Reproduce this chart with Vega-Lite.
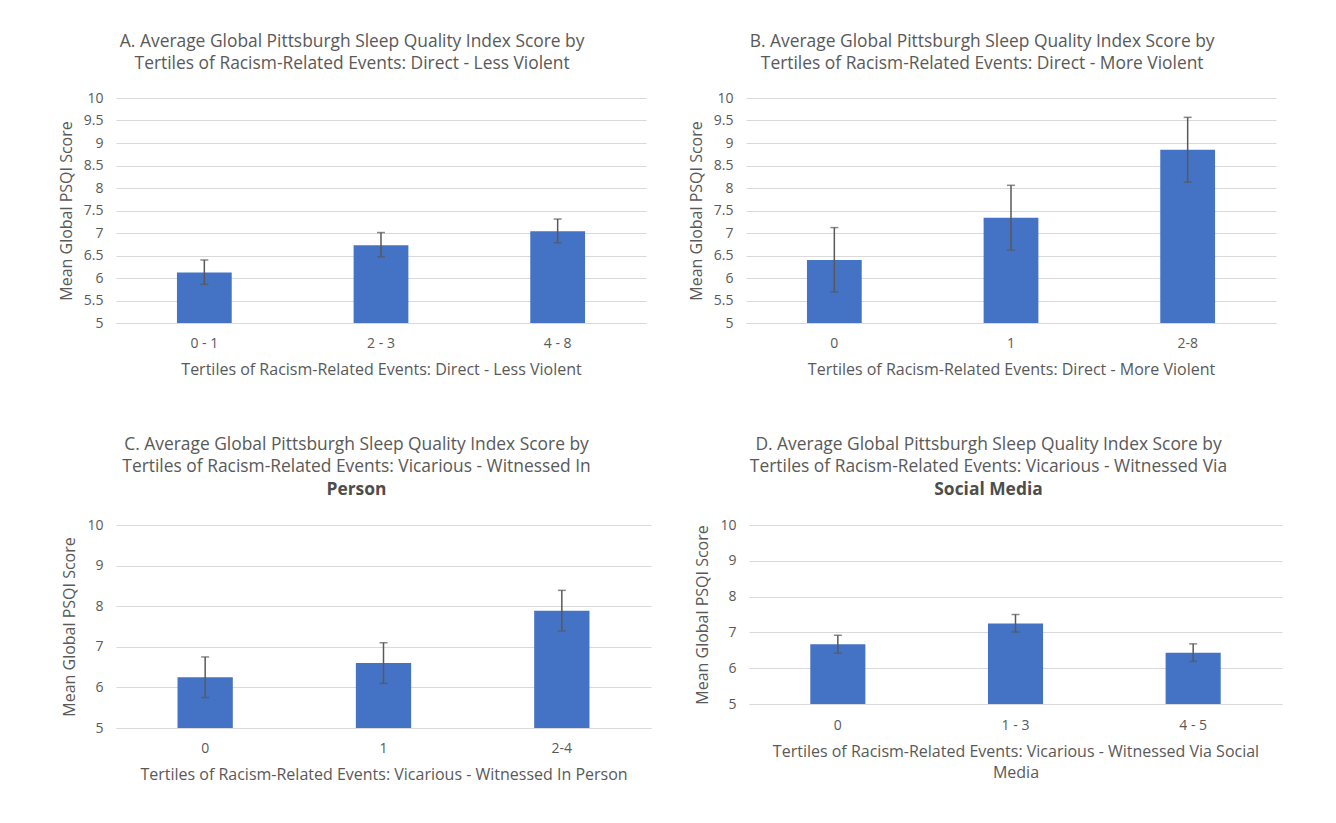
{
  "$schema": "https://vega.github.io/schema/vega-lite/v6.json",
  "padding": {"left": 58, "top": 32, "right": 5, "bottom": 5},
  "background": "white",
  "datasets": {
    "psqi": [
      {"panel": "A", "cat": "0 - 1", "mean": 6.12, "lo": 5.86, "hi": 6.40},
      {"panel": "A", "cat": "2 - 3", "mean": 6.73, "lo": 6.47, "hi": 7.01},
      {"panel": "A", "cat": "4 - 8", "mean": 7.04, "lo": 6.78, "hi": 7.31},
      {"panel": "B", "cat": "0", "mean": 6.40, "lo": 5.69, "hi": 7.12},
      {"panel": "B", "cat": "1", "mean": 7.34, "lo": 6.62, "hi": 8.06},
      {"panel": "B", "cat": "2-8", "mean": 8.85, "lo": 8.13, "hi": 9.57},
      {"panel": "C", "cat": "0", "mean": 6.25, "lo": 5.75, "hi": 6.75},
      {"panel": "C", "cat": "1", "mean": 6.60, "lo": 6.10, "hi": 7.10},
      {"panel": "C", "cat": "2-4", "mean": 7.89, "lo": 7.39, "hi": 8.39},
      {"panel": "D", "cat": "0", "mean": 6.67, "lo": 6.42, "hi": 6.92},
      {"panel": "D", "cat": "1 - 3", "mean": 7.25, "lo": 7.01, "hi": 7.50},
      {"panel": "D", "cat": "4 - 5", "mean": 6.43, "lo": 6.19, "hi": 6.68}
    ]
  },
  "config": {
    "font": "Open Sans",
    "view": {"stroke": null},
    "title": {"font": "Open Sans", "fontSize": 17.4, "fontWeight": "normal", "color": "#595959", "lineHeight": 22, "frame": "bounds", "anchor": "middle", "offset": 19, "subtitleFont": "Open Sans", "subtitleFontSize": 17.4, "subtitleFontWeight": "bold", "subtitleColor": "#4d4d4d", "subtitleLineHeight": 22, "subtitlePadding": 5},
    "axis": {"labelFont": "Open Sans", "titleFont": "Open Sans", "labelFontSize": 14, "titleFontSize": 16, "titleFontWeight": "normal", "labelColor": "#595959", "titleColor": "#595959", "ticks": false, "gridColor": "#d9d9d9", "gridWidth": 1, "domainColor": "#d9d9d9", "titleLineHeight": 21},
    "axisY": {"domain": false, "labelPadding": 13, "titlePadding": 9},
    "axisX": {"labelAngle": 0, "labelPadding": 13, "titlePadding": 11, "grid": false}
  },
  "vconcat": [
    {
      "hconcat": [
        {
          "width": 530, "height": 225,
          "title": {"text": ["A. Average Global Pittsburgh Sleep Quality Index Score by", "Tertiles of Racism-Related Events: Direct - Less Violent"]},
          "data": {"name": "psqi"},
          "transform": [{"filter": "datum.panel === 'A'"}],
          "encoding": {
            "x": {"field": "cat", "type": "nominal", "sort": null, "scale": {"paddingInner": 0.69, "paddingOuter": 0.345}, "axis": {"title": "Tertiles of Racism-Related Events: Direct - Less Violent"}}
          },
          "layer": [
            {"mark": {"type": "bar", "color": "#4472C4"}, "encoding": {"y": {"field": "mean", "type": "quantitative", "scale": {"domain": [5, 10], "nice": false, "zero": false}, "axis": {"values": [5, 5.5, 6, 6.5, 7, 7.5, 8, 8.5, 9, 9.5, 10], "format": "~r", "title": "Mean Global PSQI Score"}}, "y2": {"datum": 5}}},
            {"mark": {"type": "rule", "color": "#595959", "strokeWidth": 1.5}, "encoding": {"y": {"field": "lo", "type": "quantitative", "axis": {"values": [5, 5.5, 6, 6.5, 7, 7.5, 8, 8.5, 9, 9.5, 10], "format": "~r", "title": "Mean Global PSQI Score"}}, "y2": {"field": "hi"}}},
            {"mark": {"type": "tick", "color": "#595959", "thickness": 1.5, "size": 8}, "encoding": {"y": {"field": "lo", "type": "quantitative", "axis": {"values": [5, 5.5, 6, 6.5, 7, 7.5, 8, 8.5, 9, 9.5, 10], "format": "~r", "title": "Mean Global PSQI Score"}}}},
            {"mark": {"type": "tick", "color": "#595959", "thickness": 1.5, "size": 8}, "encoding": {"y": {"field": "hi", "type": "quantitative", "axis": {"values": [5, 5.5, 6, 6.5, 7, 7.5, 8, 8.5, 9, 9.5, 10], "format": "~r", "title": "Mean Global PSQI Score"}}}}
          ]
        },
        {
          "width": 530, "height": 225,
          "title": {"text": ["B. Average Global Pittsburgh Sleep Quality Index Score by", "Tertiles of Racism-Related Events: Direct - More Violent"]},
          "data": {"name": "psqi"},
          "transform": [{"filter": "datum.panel === 'B'"}],
          "encoding": {
            "x": {"field": "cat", "type": "nominal", "sort": null, "scale": {"paddingInner": 0.69, "paddingOuter": 0.345}, "axis": {"title": "Tertiles of Racism-Related Events: Direct - More Violent"}}
          },
          "layer": [
            {"mark": {"type": "bar", "color": "#4472C4"}, "encoding": {"y": {"field": "mean", "type": "quantitative", "scale": {"domain": [5, 10], "nice": false, "zero": false}, "axis": {"values": [5, 5.5, 6, 6.5, 7, 7.5, 8, 8.5, 9, 9.5, 10], "format": "~r", "title": "Mean Global PSQI Score"}}, "y2": {"datum": 5}}},
            {"mark": {"type": "rule", "color": "#595959", "strokeWidth": 1.5}, "encoding": {"y": {"field": "lo", "type": "quantitative", "axis": {"values": [5, 5.5, 6, 6.5, 7, 7.5, 8, 8.5, 9, 9.5, 10], "format": "~r", "title": "Mean Global PSQI Score"}}, "y2": {"field": "hi"}}},
            {"mark": {"type": "tick", "color": "#595959", "thickness": 1.5, "size": 8}, "encoding": {"y": {"field": "lo", "type": "quantitative", "axis": {"values": [5, 5.5, 6, 6.5, 7, 7.5, 8, 8.5, 9, 9.5, 10], "format": "~r", "title": "Mean Global PSQI Score"}}}},
            {"mark": {"type": "tick", "color": "#595959", "thickness": 1.5, "size": 8}, "encoding": {"y": {"field": "hi", "type": "quantitative", "axis": {"values": [5, 5.5, 6, 6.5, 7, 7.5, 8, 8.5, 9, 9.5, 10], "format": "~r", "title": "Mean Global PSQI Score"}}}}
          ]
        }
      ],
      "spacing": 42
    },
    {
      "hconcat": [
        {
          "width": 535, "height": 203,
          "title": {"text": ["C. Average Global Pittsburgh Sleep Quality Index Score by", "Tertiles of Racism-Related Events: Vicarious - Witnessed In"], "subtitle": "Person", "offset": 20},
          "data": {"name": "psqi"},
          "transform": [{"filter": "datum.panel === 'C'"}],
          "encoding": {
            "x": {"field": "cat", "type": "nominal", "sort": null, "scale": {"paddingInner": 0.69, "paddingOuter": 0.345}, "axis": {"title": "Tertiles of Racism-Related Events: Vicarious - Witnessed In Person"}}
          },
          "layer": [
            {"mark": {"type": "bar", "color": "#4472C4"}, "encoding": {"y": {"field": "mean", "type": "quantitative", "scale": {"domain": [5, 10], "nice": false, "zero": false}, "axis": {"values": [5, 6, 7, 8, 9, 10], "format": "~r", "title": "Mean Global PSQI Score"}}, "y2": {"datum": 5}}},
            {"mark": {"type": "rule", "color": "#595959", "strokeWidth": 1.5}, "encoding": {"y": {"field": "lo", "type": "quantitative", "axis": {"values": [5, 6, 7, 8, 9, 10], "format": "~r", "title": "Mean Global PSQI Score"}}, "y2": {"field": "hi"}}},
            {"mark": {"type": "tick", "color": "#595959", "thickness": 1.5, "size": 8}, "encoding": {"y": {"field": "lo", "type": "quantitative", "axis": {"values": [5, 6, 7, 8, 9, 10], "format": "~r", "title": "Mean Global PSQI Score"}}}},
            {"mark": {"type": "tick", "color": "#595959", "thickness": 1.5, "size": 8}, "encoding": {"y": {"field": "hi", "type": "quantitative", "axis": {"values": [5, 6, 7, 8, 9, 10], "format": "~r", "title": "Mean Global PSQI Score"}}}}
          ]
        },
        {
          "width": 533, "height": 179,
          "title": {"text": ["D. Average Global Pittsburgh Sleep Quality Index Score by", "Tertiles of Racism-Related Events: Vicarious - Witnessed Via"], "subtitle": "Social Media", "offset": 20},
          "data": {"name": "psqi"},
          "transform": [{"filter": "datum.panel === 'D'"}],
          "encoding": {
            "x": {"field": "cat", "type": "nominal", "sort": null, "scale": {"paddingInner": 0.69, "paddingOuter": 0.345}, "axis": {"title": ["Tertiles of Racism-Related Events: Vicarious - Witnessed Via Social", "Media"], "labelPadding": 14}}
          },
          "layer": [
            {"mark": {"type": "bar", "color": "#4472C4"}, "encoding": {"y": {"field": "mean", "type": "quantitative", "scale": {"domain": [5, 10], "nice": false, "zero": false}, "axis": {"values": [5, 6, 7, 8, 9, 10], "format": "~r", "title": "Mean Global PSQI Score"}}, "y2": {"datum": 5}}},
            {"mark": {"type": "rule", "color": "#595959", "strokeWidth": 1.5}, "encoding": {"y": {"field": "lo", "type": "quantitative", "axis": {"values": [5, 6, 7, 8, 9, 10], "format": "~r", "title": "Mean Global PSQI Score"}}, "y2": {"field": "hi"}}},
            {"mark": {"type": "tick", "color": "#595959", "thickness": 1.5, "size": 8}, "encoding": {"y": {"field": "lo", "type": "quantitative", "axis": {"values": [5, 6, 7, 8, 9, 10], "format": "~r", "title": "Mean Global PSQI Score"}}}},
            {"mark": {"type": "tick", "color": "#595959", "thickness": 1.5, "size": 8}, "encoding": {"y": {"field": "hi", "type": "quantitative", "axis": {"values": [5, 6, 7, 8, 9, 10], "format": "~r", "title": "Mean Global PSQI Score"}}}}
          ]
        }
      ],
      "spacing": 43
    }
  ],
  "spacing": 59
}
